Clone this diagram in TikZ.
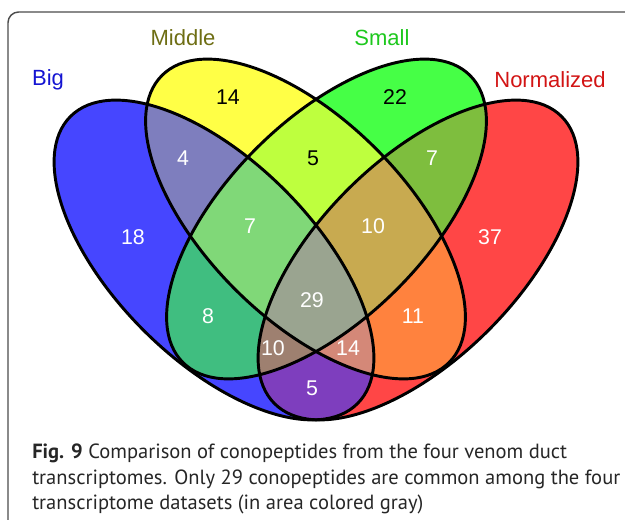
\documentclass[tikz,border=0pt]{standalone}
\usepackage{fontspec}
\setmainfont{PT Sans}
\newfontfamily\vennfont{Liberation Sans}

\definecolor{cB}{HTML}{4646FF}
\definecolor{cM}{HTML}{FFFF46}
\definecolor{cS}{HTML}{46FF46}
\definecolor{cN}{HTML}{FF4646}
\definecolor{cBM}{HTML}{7E7EBE}
\definecolor{cBS}{HTML}{40BE80}
\definecolor{cBN}{HTML}{7E3EBE}
\definecolor{cMS}{HTML}{BEFF3E}
\definecolor{cMN}{HTML}{FF823E}
\definecolor{cSN}{HTML}{7EBE3E}
\definecolor{cBMS}{HTML}{80D878}
\definecolor{cBMN}{HTML}{D48878}
\definecolor{cBSN}{HTML}{9E8070}
\definecolor{cMSN}{HTML}{C8AA50}
\definecolor{cAll}{HTML}{9AA490}

% one set of the diagram: centre x, centre y, angle, path options
\newcommand{\vennset}[4]{\path[#4,rotate around={#3:(#1,#2)}] (#1,#2) ellipse [x radius=203,y radius=99.5];}
\newcommand{\setB}[1]{\vennset{214}{260}{-45}{#1}}
\newcommand{\setM}[1]{\vennset{305.5}{219}{-45}{#1}}
\newcommand{\setS}[1]{\vennset{326.5}{219}{45}{#1}}
\newcommand{\setN}[1]{\vennset{418}{260}{45}{#1}}

\begin{document}
\begin{tikzpicture}[x=0.75pt,y=-0.75pt,
    num/.style={font={\vennfont\fontsize{16}{19}\selectfont},text=white},
    setname/.style={font={\vennfont\fontsize{16.5}{19}\selectfont}},
    capline/.style={anchor=base west,inner sep=0pt,font={\fontsize{15.4}{18}\selectfont},text=black!85}]
\useasboundingbox (0,0) rectangle (625,520);
\draw[line width=1.1pt,black!70,rounded corners=8pt] (8,12) rectangle (660,560);

% single sets, then pairs, triples and the common part
\setB{fill=cB} \setM{fill=cM} \setS{fill=cS} \setN{fill=cN}
\begin{scope} \setB{clip} \setM{fill=cBM} \setS{fill=cBS} \setN{fill=cBN} \end{scope}
\begin{scope} \setM{clip} \setS{fill=cMS} \setN{fill=cMN} \end{scope}
\begin{scope} \setS{clip} \setN{fill=cSN} \end{scope}
\begin{scope} \setB{clip} \setM{clip} \setS{fill=cBMS} \setN{fill=cBMN} \end{scope}
\begin{scope} \setB{clip} \setS{clip} \setN{fill=cBSN} \end{scope}
\begin{scope} \setM{clip} \setS{clip} \setN{fill=cMSN} \end{scope}
\begin{scope} \setB{clip} \setM{clip} \setS{clip} \setN{fill=cAll} \end{scope}
\setB{draw,line width=2.2pt} \setM{draw,line width=2.2pt}
\setS{draw,line width=2.2pt} \setN{draw,line width=2.2pt}

\node[setname,text={rgb,255:red,20;green,20;blue,210}] (big) at (48,80) {Big};
\node[setname,text={rgb,255:red,110;green,110;blue,20}] (middle) at (183,38) {Middle};
\node[setname,text={rgb,255:red,30;green,200;blue,30}] (small) at (382,38) {Small};
\node[setname,text={rgb,255:red,210;green,20;blue,20}] (normalized) at (550,80) {Normalized};

\node[num,text=black] (nM) at (228,97) {14};
\node[num,text=black] (nS) at (395,97) {22};
\node[num] (nBM) at (183,158) {4};
\node[num,text=black] (nMS) at (313,158) {5};
\node[num] (nSN) at (432,158) {7};
\node[num] (nB) at (133,237) {18};
\node[num] (nBMS) at (250,226) {7};
\node[num] (nMSN) at (373,226) {10};
\node[num] (nN) at (490,237) {37};
\node[num] (nAll) at (312,300) {29};
\node[num] (nBS) at (208,316) {8};
\node[num] (nMN) at (413,316) {11};
\node[num] (nBSN) at (273,348) {10};
\node[num] (nBMN) at (348,348) {14};
\node[num] (nBN) at (312,388) {5};

\node[capline] (cap1) at (32,458) {\textbf{Fig. 9} Comparison of conopeptides from the four venom duct};
\node[capline] (cap2) at (32,484) {transcriptomes. Only 29 conopeptides are common among the four};
\node[capline] (cap3) at (32,509) {transcriptome datasets (in area colored gray)};
\end{tikzpicture}
\end{document}
